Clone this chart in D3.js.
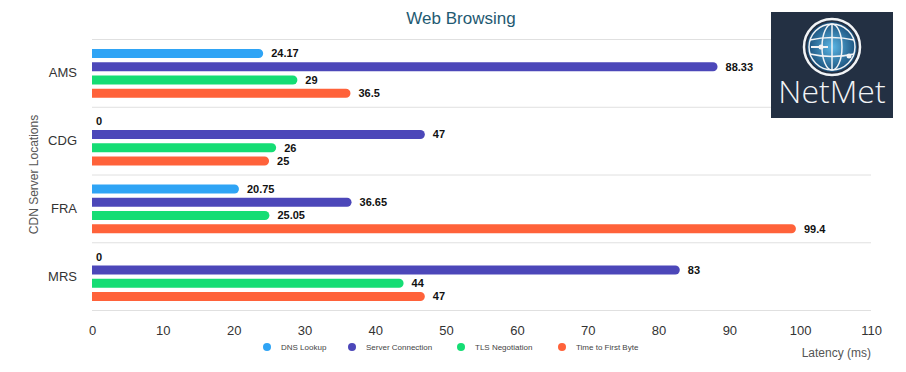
<!DOCTYPE html>
<html>
<head>
<meta charset="utf-8">
<script src="https://cdn.jsdelivr.net/npm/d3@7"></script>
<style>
  body { margin: 0; background: #fff; font-family: "Liberation Sans", Arial, sans-serif; }
</style>
</head>
<body>
<svg id="chart" width="906" height="372"></svg>
<script>
const locations = ["AMS", "CDG", "FRA", "MRS"];
const seriesNames = ["DNS Lookup", "Server Connection", "TLS Negotiation", "Time to First Byte"];
const colors = ["#2fa4f5", "#4c47b9", "#15dd74", "#ff623a"];
const dnsLookup = [24.17, 0, 20.75, 0];
const serverConnection = [88.33, 47, 36.65, 83];
const tlsNegotiation = [29, 26, 25.05, 44];
const timeToFirstByte = [36.5, 25, 99.4, 47];
const xTicks = [0, 10, 20, 30, 40, 50, 60, 70, 80, 90, 100, 110];

const values = [dnsLookup, serverConnection, tlsNegotiation, timeToFirstByte];

const margin = { top: 39, right: 35, bottom: 62, left: 92 };
const width = 906, height = 372;

const svg = d3.select("#chart");

const x = d3.scaleLinear()
  .domain([0, 110])
  .range([margin.left, width - margin.right]);

const y = d3.scaleBand()
  .domain(locations)
  .range([margin.top, height - margin.bottom])
  .paddingInner(0);

const ySub = d3.scaleBand()
  .domain(d3.range(seriesNames.length))
  .range([10, y.bandwidth() - 9])
  .paddingInner(0.32);

// gridlines between categories
const lines = [margin.top].concat(locations.map(l => y(l) + y.bandwidth()));
svg.selectAll(".grid")
  .data(lines)
  .enter().append("line")
  .attr("x1", margin.left)
  .attr("x2", width - margin.right)
  .attr("y1", d => d + 0.5)
  .attr("y2", d => d + 0.5)
  .attr("stroke", "#e0e0e0")
  .attr("stroke-width", 1);

// title
svg.append("text")
  .attr("x", 461)
  .attr("y", 24)
  .attr("text-anchor", "middle")
  .attr("fill", "#1f5a72")
  .style("font-size", "17px")
  .text("Web Browsing");

// bars
function barPath(x0, y0, w, h) {
  const r = Math.min(h / 2, w);
  if (w <= 0) return "";
  return `M${x0},${y0}H${x0 + w - r}A${r},${r} 0 0 1 ${x0 + w},${y0 + r}` +
    `V${y0 + h - r}A${r},${r} 0 0 1 ${x0 + w - r},${y0 + h}H${x0}Z`;
}

locations.forEach((loc, li) => {
  const g = svg.append("g").attr("transform", `translate(0,${y(loc)})`);
  values.forEach((series, si) => {
    const v = series[li];
    const by = ySub(si);
    const bh = ySub.bandwidth();
    g.append("path")
      .attr("d", barPath(x(0), by, x(v) - x(0), bh))
      .attr("fill", colors[si]);
    g.append("text")
      .attr("x", x(v) + (v > 0 ? 8 : 4))
      .attr("y", by + bh / 2)
      .attr("dy", "0.35em")
      .attr("fill", "#111")
      .style("font-size", "11px")
      .style("font-weight", "bold")
      .text(v);
  });
});

// y axis labels
svg.selectAll(".cat")
  .data(locations)
  .enter().append("text")
  .attr("x", 77)
  .attr("y", d => y(d) + y.bandwidth() / 2)
  .attr("dy", "0.35em")
  .attr("text-anchor", "end")
  .attr("fill", "#333")
  .style("font-size", "13px")
  .text(d => d);

svg.append("text")
  .attr("transform", `translate(38,${(margin.top + height - margin.bottom) / 2}) rotate(-90)`)
  .attr("text-anchor", "middle")
  .attr("fill", "#555")
  .style("font-size", "12px")
  .text("CDN Server Locations");

// x axis
const xAxis = svg.append("g")
  .attr("transform", `translate(0,${height - margin.bottom})`)
  .call(d3.axisBottom(x).tickValues(xTicks).tickSize(0).tickPadding(16));
xAxis.select(".domain").remove();
xAxis.selectAll("text")
  .attr("fill", "#333")
  .style("font-size", "13px")
  .style("font-family", "'Liberation Sans', Arial, sans-serif");

svg.append("text")
  .attr("x", width - margin.right)
  .attr("y", 357)
  .attr("text-anchor", "end")
  .attr("fill", "#555")
  .style("font-size", "12px")
  .text("Latency (ms)");

// legend
const legendX = [267, 352, 461, 562];
const legend = svg.selectAll(".legend")
  .data(seriesNames)
  .enter().append("g")
  .attr("transform", (d, i) => `translate(${legendX[i]},347)`);
legend.append("circle")
  .attr("r", 4)
  .attr("fill", (d, i) => colors[i]);
legend.append("text")
  .attr("x", 14)
  .attr("dy", "0.35em")
  .attr("fill", "#444")
  .style("font-size", "8px")
  .text(d => d);

// logo
const logo = svg.append("g").attr("transform", "translate(771,12)");
logo.append("rect")
  .attr("width", 122)
  .attr("height", 106)
  .attr("fill", "#233043");
const globe = logo.append("g").attr("transform", "translate(61,35)");
const grad = svg.append("defs").append("radialGradient").attr("id", "gl");
grad.append("stop").attr("offset", "0%").attr("stop-color", "#5bb7e6");
grad.append("stop").attr("offset", "100%").attr("stop-color", "#1a4f7a");
globe.append("circle").attr("r", 25).attr("fill", "url(#gl)");
globe.append("circle").attr("r", 28).attr("fill", "none").attr("stroke", "#f2f4f6").attr("stroke-width", 2.5);
globe.append("circle").attr("r", 23).attr("fill", "none").attr("stroke", "#f2f4f6").attr("stroke-width", 1.5);
globe.append("ellipse").attr("rx", 10).attr("ry", 23).attr("fill", "none").attr("stroke", "#f2f4f6").attr("stroke-width", 1.5);
globe.append("line").attr("x1", 0).attr("x2", 0).attr("y1", -23).attr("y2", 23).attr("stroke", "#f2f4f6").attr("stroke-width", 1.5);
globe.append("path").attr("d", "M-22,-7Q0,-12 22,-7").attr("fill", "none").attr("stroke", "#f2f4f6").attr("stroke-width", 1.5);
globe.append("path").attr("d", "M-22,7Q0,12 22,7").attr("fill", "none").attr("stroke", "#f2f4f6").attr("stroke-width", 1.5);
globe.append("line").attr("x1", -21).attr("x2", -4).attr("y1", 0).attr("y2", 0).attr("stroke", "#f2f4f6").attr("stroke-width", 2);
globe.append("circle").attr("cx", -11).attr("cy", 0).attr("r", 2.5).attr("fill", "#f2f4f6");
globe.append("circle").attr("cx", 17).attr("cy", 9).attr("r", 2.5).attr("fill", "#f2f4f6");
logo.append("text")
  .attr("x", 61)
  .attr("y", 91)
  .attr("text-anchor", "middle")
  .attr("fill", "#f2f4f6")
  .style("font-family", "'Open Sans', sans-serif")
  .style("font-weight", "300")
  .style("font-size", "32px")
  .text("NetMet");
</script>
</body>
</html>
